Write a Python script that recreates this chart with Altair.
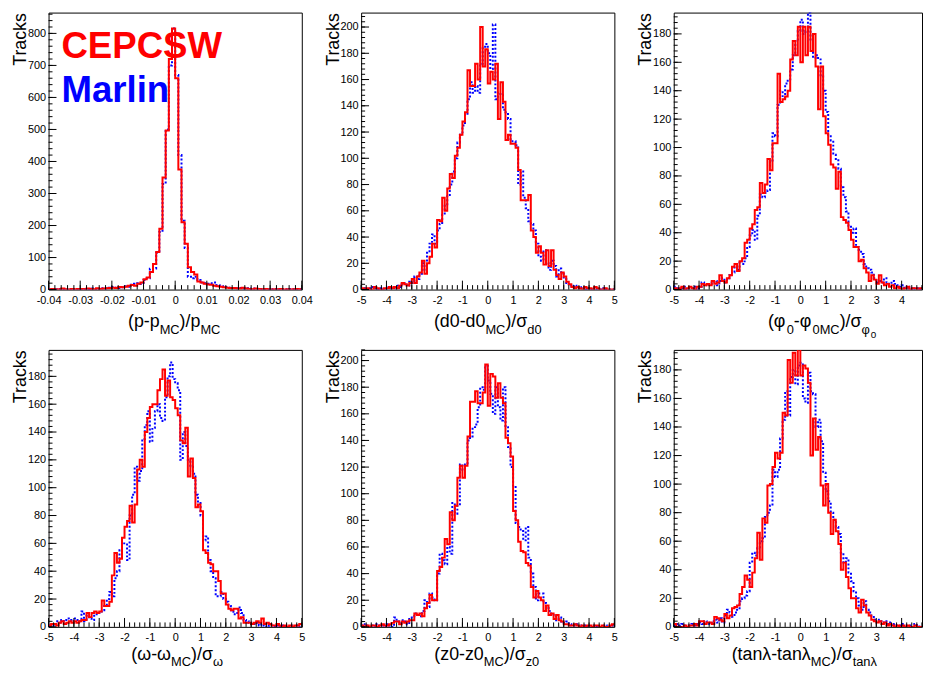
import altair as alt
import numpy as np
import pandas as pd

FONT = "Liberation Sans"
H = 280
W = 256
W_LAST = 251

# ---------------- data (bin contents, left to right) ----------------
# panel 1: (p-pMC)/pMC, 80 bins from -0.04, width 0.001
p_red = [1, 2, 0, 1, 3, 1, 0, 2, 1, 2,
         2, 1, 3, 2, 1, 4, 2, 3, 4, 5,
         6, 5, 8, 7, 9, 12, 14, 12, 18, 22,
         32, 38, 55, 80, 117, 190, 350, 497, 720, 815,
         660, 375, 210, 143, 70, 55, 47, 25, 22, 18,
         16, 15, 12, 10, 9, 7, 6, 5, 5, 4,
         3, 6, 3, 2, 1, 3, 2, 1, 2, 1,
         0, 1, 1, 2, 0, 1, 0, 1, 2, 1]
p_blue = [2, 0, 1, 2, 1, 0, 1, 2, 0, 1,
          1, 2, 1, 3, 2, 2, 1, 4, 3, 6,
          8, 6, 5, 7, 10, 9, 15, 18, 20, 17,
          30, 35, 65, 66, 115, 180, 330, 500, 700, 815,
          670, 420, 215, 130, 40, 35, 40, 30, 22, 20,
          18, 20, 22, 14, 12, 10, 8, 6, 5, 4,
          5, 3, 4, 2, 3, 1, 2, 2, 1, 0,
          1, 2, 0, 1, 1, 0, 2, 1, 0, 1]

# panel 2: d0 pull, 100 bins from -5, width 0.1
d0_red = [1, 0, 1, 0, 0, 2, 1, 0, 0, 1,
          1, 2, 1, 2, 1, 3, 5, 4, 3, 5,
          8, 5, 10, 13, 22, 12, 20, 25, 35, 32,
          53, 52, 70, 60, 77, 88, 85, 102, 108, 118,
          128, 135, 167, 155, 155, 172, 160, 200, 170, 183,
          157, 166, 160, 172, 130, 158, 143, 114, 118, 111,
          111, 108, 91, 68, 68, 68, 72, 45, 40, 28,
          33, 28, 19, 30, 18, 30, 15, 11, 8, 13,
          10, 6, 4, 2, 1, 2, 1, 0, 2, 1,
          1, 0, 2, 1, 0, 0, 1, 0, 0, 0]
d0_blue = [0, 1, 0, 1, 2, 1, 0, 1, 0, 0,
           2, 1, 2, 1, 3, 2, 4, 5, 3, 6,
           5, 10, 8, 12, 20, 15, 28, 35, 42, 35,
           45, 50, 57, 65, 72, 80, 90, 100, 112, 118,
           125, 133, 145, 158, 150, 155, 150, 172, 185, 187,
           180, 168, 202, 145, 150, 148, 137, 135, 130, 113,
           113, 110, 80, 90, 70, 62, 52, 50, 45, 35,
           25, 22, 30, 20, 15, 22, 18, 10, 16, 12,
           8, 5, 4, 2, 3, 2, 1, 2, 0, 1,
           1, 0, 1, 0, 0, 1, 0, 0, 0, 0]

# panel 3: phi0 pull
phi_red = [1, 0, 1, 2, 0, 1, 2, 1, 0, 2,
           2, 4, 3, 4, 3, 6, 4, 5, 10, 6,
           5, 8, 10, 16, 18, 13, 20, 22, 33, 35,
           43, 46, 56, 58, 75, 68, 74, 92, 84, 103,
           103, 152, 132, 134, 136, 140, 162, 175, 165, 185,
           160, 185, 165, 185, 168, 180, 157, 127, 157, 122,
           110, 102, 88, 86, 71, 83, 51, 49, 47, 42,
           35, 30, 30, 20, 21, 15, 12, 6, 10, 7,
           4, 10, 5, 3, 4, 2, 3, 1, 2, 1,
           0, 1, 2, 0, 1, 1, 0, 1, 0, 0]
phi_blue = [2, 1, 0, 1, 2, 0, 1, 1, 2, 0,
            2, 5, 4, 3, 4, 5, 6, 3, 6, 8,
            5, 8, 10, 12, 16, 14, 20, 18, 22, 30,
            38, 42, 35, 52, 67, 65, 68, 70, 90, 110,
            108, 130, 140, 135, 145, 148, 155, 165, 175, 182,
            190, 180, 182, 195, 175, 163, 165, 163, 150, 140,
            125, 108, 105, 95, 92, 85, 72, 65, 55, 45,
            40, 43, 30, 28, 25, 18, 15, 14, 12, 8,
            5, 6, 5, 8, 5, 4, 6, 4, 3, 2,
            3, 1, 2, 1, 0, 1, 1, 0, 1, 0]

# panel 4: omega pull
om_red = [1, 2, 2, 1, 3, 4, 2, 3, 4, 3,
          4, 3, 4, 5, 5, 10, 7, 10, 11, 10,
          11, 19, 15, 15, 18, 37, 53, 46, 49, 64,
          72, 76, 87, 75, 88, 113, 120, 115, 140, 150,
          158, 160, 160, 170, 178, 185, 166, 177, 165, 163,
          157, 152, 134, 132, 143, 108, 121, 107, 86, 88,
          83, 55, 53, 46, 45, 40, 40, 33, 24, 24,
          16, 13, 12, 13, 13, 6, 7, 3, 3, 3,
          2, 3, 4, 3, 6, 2, 3, 2, 1, 1,
          2, 1, 0, 1, 0, 1, 0, 1, 1, 2]
om_blue = [1, 1, 2, 4, 3, 5, 4, 6, 5, 4,
           6, 5, 4, 11, 4, 8, 6, 5, 8, 10,
           10, 12, 15, 20, 25, 22, 35, 40, 55, 60,
           60, 48, 80, 95, 115, 105, 112, 135, 145, 155,
           133, 143, 155, 160, 150, 148, 165, 180, 190, 178,
           175, 170, 120, 140, 130, 120, 115, 110, 95, 90,
           80, 62, 65, 48, 40, 35, 22, 22, 25, 20,
           18, 15, 12, 9, 10, 14, 10, 5, 4, 3,
           2, 2, 3, 1, 2, 1, 0, 1, 1, 0,
           1, 0, 1, 0, 0, 1, 0, 0, 1, 0]

# panel 5: z0 pull
z0_red = [1, 0, 1, 0, 1, 1, 0, 1, 2, 1,
          1, 2, 3, 4, 4, 2, 4, 3, 4, 5,
          5, 10, 9, 10, 8, 14, 18, 24, 20, 20,
          42, 45, 52, 66, 62, 86, 80, 91, 112, 121,
          112, 121, 143, 169, 169, 177, 168, 168, 176, 197,
          166, 190, 188, 172, 183, 172, 168, 142, 138, 128,
          87, 80, 64, 57, 56, 48, 46, 30, 22, 27,
          22, 20, 12, 16, 9, 10, 6, 9, 5, 4,
          2, 2, 1, 1, 2, 1, 0, 1, 0, 1,
          1, 0, 1, 1, 0, 1, 0, 0, 1, 2]
z0_blue = [1, 2, 1, 0, 1, 0, 2, 1, 1, 0,
           2, 1, 0, 7, 4, 3, 5, 4, 2, 6,
           8, 10, 9, 8, 12, 20, 15, 25, 22, 20,
           40, 55, 50, 47, 60, 55, 93, 85, 92, 122,
           118, 122, 140, 143, 150, 152, 165, 180, 178, 196,
           185, 175, 160, 180, 165, 155, 180, 150, 135, 120,
           105, 78, 75, 72, 65, 75, 52, 40, 30, 20,
           25, 25, 18, 15, 12, 10, 8, 5, 7, 4,
           3, 4, 2, 1, 1, 2, 0, 1, 1, 0,
           0, 1, 1, 0, 0, 0, 1, 0, 0, 1]

# panel 6: tan(lambda) pull
tl_red = [2, 0, 0, 0, 1, 0, 1, 1, 2, 1,
          4, 4, 2, 3, 3, 2, 7, 6, 5, 4,
          9, 6, 8, 13, 14, 15, 23, 28, 36, 33,
          28, 38, 48, 66, 47, 76, 73, 99, 100, 112,
          122, 118, 122, 150, 148, 187, 171, 192, 176, 195,
          176, 183, 181, 171, 120, 146, 124, 133, 99, 85,
          100, 80, 65, 75, 67, 58, 40, 45, 35, 27,
          20, 20, 13, 10, 19, 15, 10, 8, 5, 4,
          3, 4, 2, 3, 1, 2, 1, 0, 1, 0,
          1, 0, 1, 0, 0, 1, 0, 0, 0, 0]
tl_blue = [1, 2, 1, 2, 1, 0, 1, 2, 1, 2,
           3, 2, 4, 3, 2, 4, 5, 3, 6, 3,
           8, 12, 10, 7, 10, 12, 18, 20, 22, 25,
           45, 52, 50, 55, 60, 62, 77, 80, 85, 110,
           105, 110, 132, 145, 165, 148, 175, 180, 170, 183,
           185, 160, 157, 178, 165, 163, 140, 145, 130, 108,
           95, 88, 80, 75, 70, 65, 52, 45, 48, 38,
           32, 25, 20, 15, 12, 18, 12, 10, 8, 5,
           5, 4, 3, 4, 2, 3, 1, 2, 1, 1,
           2, 0, 1, 1, 0, 2, 1, 0, 0, 1]

# ---------------- axis titles (text, level: 0 main, 1 sub, 2 sub-sub) ----------------
T1 = [("(p-p", 0), ("MC", 1), (")/p", 0), ("MC", 1)]
T2 = [("(d0-d0", 0), ("MC", 1), (")/σ", 0), ("d0", 1)]
T3 = [("(φ", 0), ("0", 1), ("-φ", 0), ("0MC", 1), (")/σ", 0), ("φ", 1), ("0", 2)]
T4 = [("(ω-ω", 0), ("MC", 1), (")/σ", 0), ("ω", 1)]
T5 = [("(z0-z0", 0), ("MC", 1), (")/σ", 0), ("z0", 1)]
T6 = [("(tanλ-tanλ", 0), ("MC", 1), (")/σ", 0), ("tanλ", 1)]

CW = {'(': 0.333, ')': 0.333, '-': 0.333, '/': 0.278, 'p': 0.556, 'd': 0.556,
      '0': 0.556, 'z': 0.5, 't': 0.278, 'a': 0.556, 'n': 0.556, 'M': 0.833,
      'C': 0.722, 'λ': 0.5, 'σ': 0.617, 'ω': 0.781, 'φ': 0.719}
SIZES = {0: 18, 1: 13, 2: 10}
DY = {0: 0, 1: 7, 2: 11}
ONE = pd.DataFrame({"i": [0]})


def seg_w(t, lev):
    return sum(CW.get(c, 0.556) for c in t) * SIZES[lev]


def title_layers(segs, center, base_y):
    total = sum(seg_w(t, l) for t, l in segs)
    x = center - total / 2
    out = []
    for t, l in segs:
        out.append(alt.Chart(ONE).mark_text(
            text=t, font=FONT, fontSize=SIZES[l], align="left",
            baseline="alphabetic", color="black"
        ).encode(x=alt.value(x), y=alt.value(base_y + DY[l])))
        x += seg_w(t, l)
    return out


def hist_df(vals, lo, step):
    n = len(vals)
    xs = [lo + i * step for i in range(n)] + [lo + n * step]
    vs = list(vals) + [vals[-1]]
    return pd.DataFrame({"x": xs, "v": vs})


def panel(red, blue, lo, step, xdom, ymax, xmaj, xmin_step, ymaj, ymin,
          width, xfmt, segs, tcenter, tbase, extra=()):
    xs = alt.Scale(domain=xdom, nice=False, zero=False)
    ys = alt.Scale(domain=[0, ymax], nice=False, zero=True)
    xaxis = alt.Axis(title=None, values=xmaj, labelExpr=xfmt, ticks=False,
                     domain=False, grid=False, labelFontSize=11, labelPadding=5,
                     labelFlush=False, labelOverlap=False, labelColor="black",
                     labelFont=FONT)
    yvals = list(range(0, int(ymax) + 1, ymaj))
    yaxis = alt.Axis(title="Tracks", values=yvals, format="d", ticks=False,
                     domain=False, grid=False, labelFontSize=11, labelPadding=3,
                     labelOverlap=False, labelColor="black", labelFont=FONT,
                     titleFont=FONT, titleFontSize=18, titleFontWeight="normal",
                     titleColor="black", titleAngle=270, titleAlign="right",
                     titleBaseline="alphabetic", titleX=-23, titleY=0)
    X = lambda: alt.X("x:Q", scale=xs, axis=xaxis)
    Y = lambda: alt.Y("v:Q", scale=ys, axis=yaxis)

    lb = alt.Chart(hist_df(blue, lo, step)).mark_line(
        interpolate="step-after", color="#0000ff", strokeWidth=2,
        strokeDash=[2, 2], clip=True).encode(x=X(), y=Y())
    lr = alt.Chart(hist_df(red, lo, step)).mark_line(
        interpolate="step-after", color="#ff0000", strokeWidth=2,
        clip=True).encode(x=X(), y=Y())

    n_min = int(round((xdom[1] - xdom[0]) / xmin_step)) + 1
    xminor = [round(xdom[0] + i * xmin_step, 6) for i in range(n_min)]
    xminor = [v for v in xminor if v <= xdom[1] + 1e-9]
    xmajor = [v for v in xmaj if v <= xdom[1] + 1e-9]
    yminor = list(range(0, int(ymax) + 1, ymin))

    txM = alt.Chart(pd.DataFrame({"x": xmajor})).mark_rule(
        color="black", strokeWidth=1).encode(
        x=X(), y=alt.value(H), y2=alt.value(H - 9))
    txm = alt.Chart(pd.DataFrame({"x": xminor})).mark_rule(
        color="black", strokeWidth=1).encode(
        x=X(), y=alt.value(H), y2=alt.value(H - 4.5))
    tyM = alt.Chart(pd.DataFrame({"v": yvals})).mark_rule(
        color="black", strokeWidth=1).encode(
        y=Y(), x=alt.value(0), x2=alt.value(8))
    tym = alt.Chart(pd.DataFrame({"v": yminor})).mark_rule(
        color="black", strokeWidth=1).encode(
        y=Y(), x=alt.value(0), x2=alt.value(4))

    layers = [lb, lr, txM, txm, tyM, tym] + title_layers(segs, tcenter, tbase) + list(extra)
    return alt.layer(*layers).properties(width=width, height=H)


FMT_P = "(datum.value < 0 ? '-' : '') + format(abs(datum.value), '.2~f')"
FMT_I = "(datum.value < 0 ? '-' : '') + format(abs(datum.value), 'd')"

xmaj_p = [round(-0.04 + 0.01 * i, 2) for i in range(9)]
xmaj_i = list(range(-5, 6))

legend_layers = [
    alt.Chart(ONE).mark_text(text="CEPCSW", font=FONT, fontSize=37, fontWeight="bold",
                             color="#ff0000", align="left", baseline="alphabetic"
                             ).encode(x=alt.value(13), y=alt.value(46)),
    alt.Chart(ONE).mark_text(text="Marlin", font=FONT, fontSize=37, fontWeight="bold",
                             color="#0000ff", align="left", baseline="alphabetic"
                             ).encode(x=alt.value(13), y=alt.value(90)),
]

dom_last = [-5, -5 + 10 * W_LAST / 256]

p1 = panel(p_red, p_blue, -0.04, 0.001, [-0.04, 0.04], 865, xmaj_p, 0.002, 100, 20,
           W, FMT_P, T1, 127, H + 38, legend_layers)
p2 = panel(d0_red, d0_blue, -5, 0.1, [-5, 5], 211, xmaj_i, 0.2, 20, 4,
           W, FMT_I, T2, 128, H + 38)
p3 = panel(phi_red, phi_blue, -5, 0.1, dom_last, 195, xmaj_i, 0.2, 20, 4,
           W_LAST, FMT_I, T3, 150, H + 38)
p4 = panel(om_red, om_blue, -5, 0.1, [-5, 5], 199, xmaj_i, 0.2, 20, 4,
           W, FMT_I, T4, 130, H + 33)
p5 = panel(z0_red, z0_blue, -5, 0.1, [-5, 5], 208, xmaj_i, 0.2, 20, 4,
           W, FMT_I, T5, 127, H + 33)
p6 = panel(tl_red, tl_blue, -5, 0.1, dom_last, 194, xmaj_i, 0.2, 20, 4,
           W_LAST, FMT_I, T6, 132, H + 33)

chart = alt.concat(p1, p2, p3, p4, p5, p6, columns=3,
                   spacing={"row": 61, "column": 60}, bounds="flush").properties(
    padding={"left": 3, "top": 0, "right": 0, "bottom": 0}
).configure_view(stroke="black", strokeWidth=1)

chart.save("out.html", embed_options={"renderer": "svg", "actions": False})
